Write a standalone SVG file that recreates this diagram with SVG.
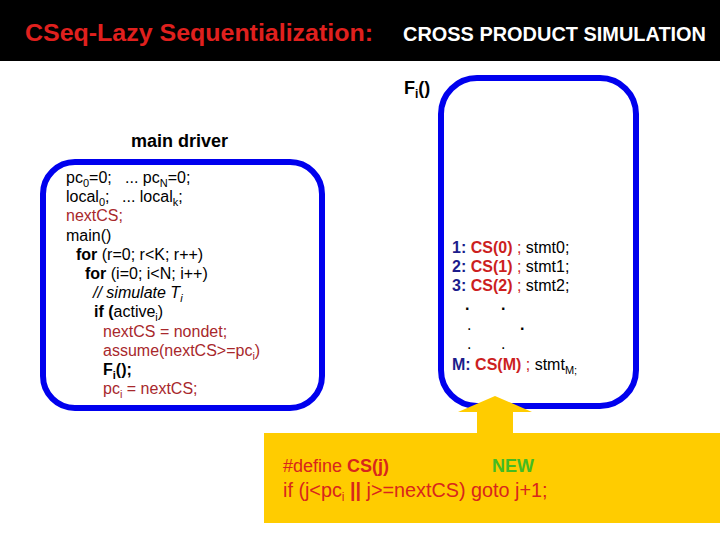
<svg xmlns="http://www.w3.org/2000/svg" width="720" height="540" viewBox="0 0 720 540">
<style>
text{font-family:"Liberation Sans",Arial,sans-serif;}
.box{fill:none;stroke:#0000EE;stroke-width:6;}
.code{font-size:16px;fill:#000;}
.red{fill:#A8282C;}
.b{font-weight:bold;}
.num{fill:#1C1C8C;font-weight:bold;}
.cs{fill:#CC1F1F;font-weight:bold;}
.def{fill:#D8261C;}
</style>
<rect x="0" y="0" width="720" height="540" fill="#fff"/>
<g id="header">
<rect x="0" y="0" width="720" height="61" fill="#000"/>
<text x="25" y="41" font-size="24" font-weight="bold" fill="#E0201E" textLength="348" lengthAdjust="spacingAndGlyphs">CSeq-Lazy Sequentialization:</text>
<text x="403" y="41" font-size="20" font-weight="bold" fill="#fff" textLength="303" lengthAdjust="spacingAndGlyphs">CROSS PRODUCT SIMULATION</text>
</g>
<g id="main-driver">
<text x="131" y="147" font-size="18" font-weight="bold" fill="#000">main driver</text>
<rect class="box" x="43" y="162" width="279" height="246" rx="32"/>
<text class="code" x="66" y="183">pc<tspan dy="4" font-size="11">0</tspan><tspan dy="-4">=0;</tspan><tspan x="125">... pc</tspan><tspan dy="4" font-size="11">N</tspan><tspan dy="-4">=0;</tspan></text>
<text class="code" x="66" y="202">local<tspan dy="4" font-size="11">0</tspan><tspan dy="-4">;</tspan><tspan x="122">... local</tspan><tspan dy="4" font-size="11">k</tspan><tspan dy="-4">;</tspan></text>
<text class="code red" x="66" y="221">nextCS;</text>
<text class="code" x="66" y="241">main()</text>
<text class="code" x="76" y="260"><tspan class="b">for</tspan> (r=0; r&lt;K; r++)</text>
<text class="code" x="85" y="279"><tspan class="b">for</tspan> (i=0; i&lt;N; i++)</text>
<text class="code" x="93" y="298" fill="#A0A0A0" font-style="italic">// simulate T<tspan dy="4" font-size="11">i</tspan></text>
<text class="code" x="94" y="317"><tspan class="b">if (</tspan>active<tspan dy="4" font-size="11">i</tspan><tspan dy="-4">)</tspan></text>
<text class="code red" x="103" y="337">nextCS = nondet;</text>
<text class="code red" x="103" y="356">assume(nextCS&gt;=pc<tspan dy="4" font-size="11">i</tspan><tspan dy="-4">)</tspan></text>
<text class="code b" x="103" y="375">F<tspan dy="4" font-size="11">i</tspan><tspan dy="-4">();</tspan></text>
<text class="code red" x="103" y="394">pc<tspan dy="4" font-size="11">i</tspan><tspan dy="-4"> = nextCS;</tspan></text>
</g>
<g id="fi-box">
<text x="404" y="94" font-size="18" font-weight="bold" fill="#000">F<tspan dy="4" font-size="12">i</tspan><tspan dy="-4">()</tspan></text>
<rect class="box" x="441" y="78" width="195" height="328" rx="36"/>
<text class="code" x="452" y="253"><tspan class="num">1:</tspan> <tspan class="cs">CS(0)</tspan><tspan fill="#CC1F1F"> ; </tspan>stmt0;</text>
<text class="code" x="452" y="272"><tspan class="num">2:</tspan> <tspan class="cs">CS(1)</tspan><tspan fill="#CC1F1F"> ; </tspan>stmt1;</text>
<text class="code" x="452" y="291"><tspan class="num">3:</tspan> <tspan class="cs">CS(2)</tspan><tspan fill="#CC1F1F"> ; </tspan>stmt2;</text>
<text class="code b" x="465" y="310">.</text>
<text class="code b" x="501" y="310">.</text>
<text class="code" x="467" y="330">.</text>
<text class="code b" x="520" y="330">.</text>
<text class="code" x="467" y="349">.</text>
<text class="code" x="501" y="349">.</text>
<text class="code" x="452" y="370"><tspan class="num">M:</tspan> <tspan class="cs">CS(M)</tspan><tspan fill="#CC1F1F"> ; </tspan>stmt<tspan dy="4" font-size="11">M;</tspan></text>
</g>
<g id="connectors">
<polygon points="495,396 532,412 513,412 513,434 477,434 477,412 458,412" fill="#FFCC00"/>
</g>
<g id="cs-define">
<rect x="264" y="433" width="456" height="90" fill="#FFCC00"/>
<text class="def" x="283" y="472" font-size="18">#define <tspan font-weight="bold">CS(j)</tspan></text>
<text x="492" y="472" font-size="18" font-weight="bold" fill="#44BB22">NEW</text>
<text class="def" x="283" y="497" font-size="19.8">if (j&lt;pc<tspan dy="4" font-size="12">i</tspan><tspan dy="-4"> </tspan><tspan font-weight="bold">||</tspan> j&gt;=nextCS) goto j+1;</text>
</g>
</svg>
